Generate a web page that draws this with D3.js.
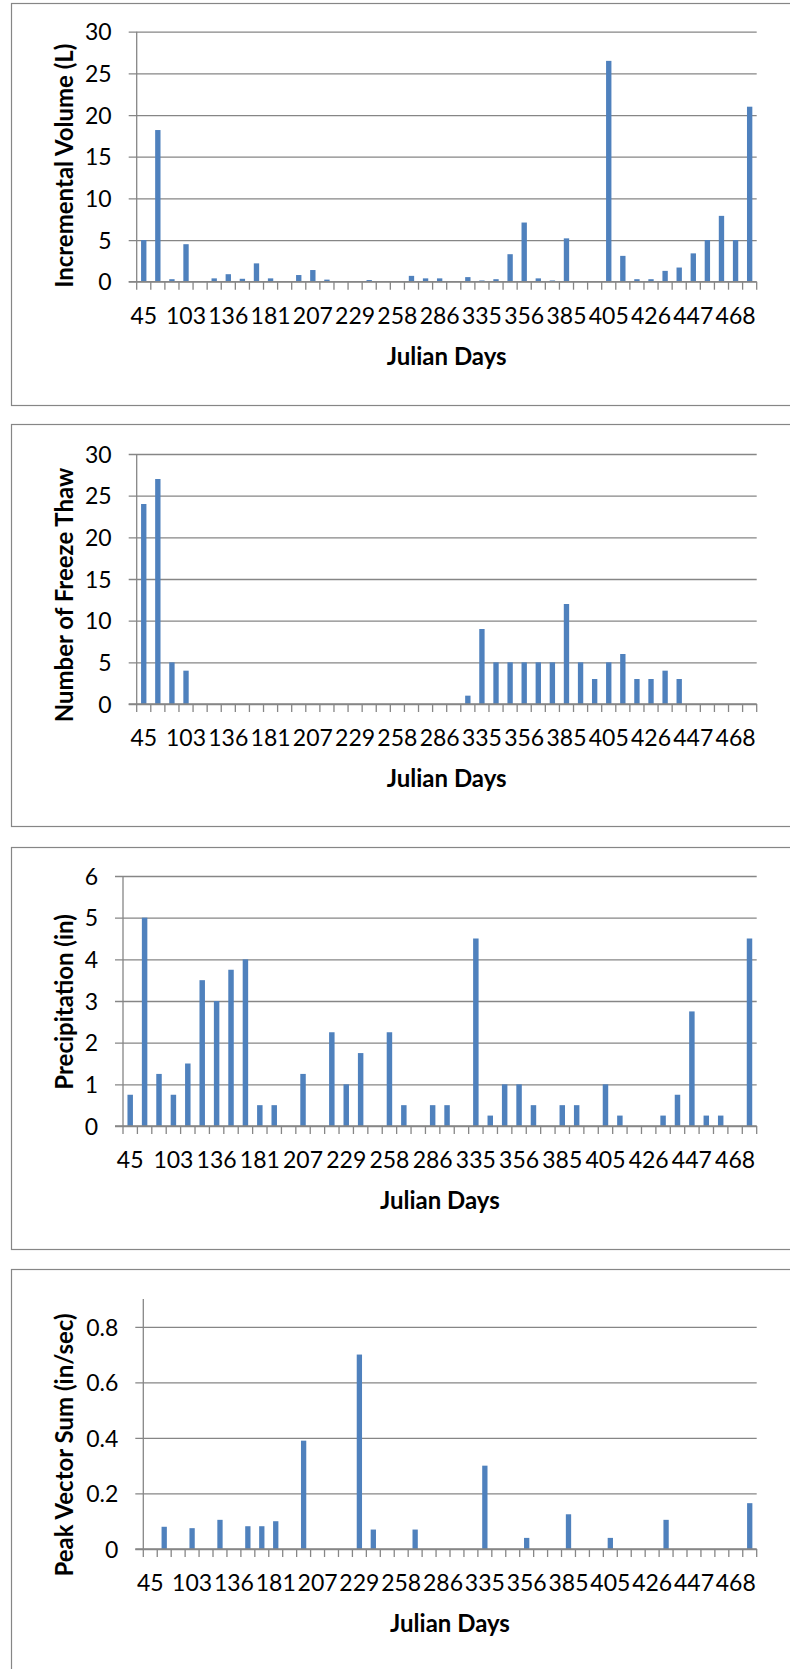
<!DOCTYPE html>
<html>
<head>
<meta charset="utf-8">
<script src="https://cdn.jsdelivr.net/npm/d3@7/dist/d3.min.js"></script>
<style>
  body { margin: 0; background: #fff; }
  text { font-family: Lato, "Open Sans", sans-serif; fill: #000; }
</style>
</head>
<body>
<svg id="chart" width="790" height="1669"></svg>
<script>
// x categories (only every third day is labelled on the chart)
var days = ["45","","","103","","","136","","","181","","","207","","","229","","",
            "258","","","286","","","335","","","356","","","385","","","405","","",
            "426","","","447","","","468",""];

// series values, one per category
var volume = [5, 18.2, 0.3, 4.5, 0, 0.4, 0.9, 0.35, 2.2, 0.4, 0, 0.8, 1.4, 0.25, 0, 0,
              0.2, 0, 0, 0.7, 0.4, 0.4, 0, 0.55, 0.15, 0.3, 3.3, 7.1, 0.4, 0.15, 5.2, 0,
              0, 26.5, 3.1, 0.3, 0.3, 1.3, 1.7, 3.4, 5, 7.9, 5, 21];
var freezeThaw = [24, 27, 5, 4, 0, 0, 0, 0, 0, 0, 0, 0, 0, 0, 0, 0, 0, 0, 0, 0, 0, 0,
                  0, 1, 9, 5, 5, 5, 5, 5, 12, 5, 3, 5, 6, 3, 3, 4, 3, 0, 0, 0, 0, 0];
var precipitation = [0.75, 5, 1.25, 0.75, 1.5, 3.5, 3, 3.75, 4, 0.5, 0.5, 0, 1.25, 0,
                     2.25, 1, 1.75, 0, 2.25, 0.5, 0, 0.5, 0.5, 0, 4.5, 0.25, 1, 1, 0.5,
                     0, 0.5, 0.5, 0, 1, 0.25, 0, 0, 0.25, 0.75, 2.75, 0.25, 0.25, 0, 4.5];
var peakVector = [0, 0.08, 0, 0.075, 0, 0.105, 0, 0.082, 0.082, 0.1, 0, 0.39, 0, 0, 0,
                  0.7, 0.07, 0, 0, 0.07, 0, 0, 0, 0, 0.3, 0, 0, 0.04, 0, 0, 0.125, 0, 0,
                  0.04, 0, 0, 0, 0.105, 0, 0, 0, 0, 0, 0.165];

// y axis ticks per panel
var volumeTicks = [0, 5, 10, 15, 20, 25, 30];
var freezeTicks = [0, 5, 10, 15, 20, 25, 30];
var precipTicks = [0, 1, 2, 3, 4, 5, 6];
var peakTicks = [0, 0.2, 0.4, 0.6, 0.8];

var gray = "#868686", barColor = "#4F81BD";
var svg = d3.select("#chart");

var panels = [
  {values: volume, ticks: volumeTicks, yMax: 30, title: "Incremental Volume (L)",
   top: 3, plotTop: 31.7, left: 136.7, titleShift: 9},
  {values: freezeThaw, ticks: freezeTicks, yMax: 30, title: "Number of Freeze Thaw",
   top: 424, plotTop: 454, left: 136.7, titleShift: 16},
  {values: precipitation, ticks: precipTicks, yMax: 6, title: "Precipitation (in)",
   top: 847, plotTop: 876, left: 123, titleShift: 1},
  {values: peakVector, ticks: peakTicks, yMax: 0.9, title: "Peak Vector Sum (in/sec)",
   top: 1269, plotTop: 1299, left: 143.3, titleShift: 21}
];

var plotRight = 756.7, plotH = 250;

panels.forEach(function(p) {
  //panel frame
  svg.append("rect")
     .attr("x", 11.5).attr("y", p.top + 0.5)
     .attr("width", 820).attr("height", 402)
     .attr("fill", "none").attr("stroke", gray).attr("stroke-width", 1.2);

  var x = d3.scaleBand()
            .domain(d3.range(days.length))
            .range([p.left, plotRight])
            .padding(0);
  var y = d3.scaleLinear()
            .domain([0, p.yMax])
            .range([p.plotTop + plotH, p.plotTop]);

  var g = svg.append("g");

  //gridlines + y labels
  var yAxis = d3.axisLeft(y)
                .tickValues(p.ticks)
                .tickSize(-(plotRight - p.left))
                .tickPadding(0)
                .tickFormat(function(d) { return d; });
  var ya = g.append("g")
            .attr("transform", "translate(" + p.left + ",0)")
            .call(yAxis);
  ya.select(".domain").remove();
  ya.selectAll(".tick line")
    .attr("x1", -8)
    .attr("stroke", gray).attr("stroke-width", 1.3);
  ya.selectAll(".tick text")
    .attr("x", -25)
    .attr("dy", "0.36em")
    .attr("font-size", 23)
    .attr("font-family", "Lato, sans-serif")
    .attr("fill", "#000");

  //vertical axis line
  g.append("line")
   .attr("x1", p.left).attr("x2", p.left)
   .attr("y1", p.plotTop).attr("y2", y(0))
   .attr("stroke", gray).attr("stroke-width", 1.3);

  //bars
  var bw = x.bandwidth() * 0.38;
  g.selectAll("rect.bar")
   .data(p.values)
   .enter()
   .append("rect")
   .attr("class", "bar")
   .attr("x", function(d, i) { return x(i) + (x.bandwidth() - bw) / 2; })
   .attr("y", function(d) { return y(d); })
   .attr("width", bw)
   .attr("height", function(d) { return y(0) - y(d); })
   .attr("fill", barColor);

  //x axis line and boundary ticks
  g.append("line")
   .attr("x1", p.left - 8).attr("x2", plotRight)
   .attr("y1", y(0)).attr("y2", y(0))
   .attr("stroke", gray).attr("stroke-width", 1.3);
  var edges = d3.range(days.length + 1);
  g.selectAll("line.xtick")
   .data(edges)
   .enter()
   .append("line")
   .attr("class", "xtick")
   .attr("x1", function(i) { return i < days.length ? x(i) : x(i - 1) + x.bandwidth(); })
   .attr("x2", function(i) { return i < days.length ? x(i) : x(i - 1) + x.bandwidth(); })
   .attr("y1", y(0)).attr("y2", y(0) + 8)
   .attr("stroke", gray).attr("stroke-width", 1.3);

  //x labels
  var xAxis = d3.axisBottom(x)
                .tickValues(d3.range(days.length).filter(function(i) { return days[i] !== ""; }))
                .tickSize(0)
                .tickPadding(26)
                .tickFormat(function(i) { return days[i]; });
  var xa = g.append("g")
            .attr("transform", "translate(0," + y(0) + ")")
            .call(xAxis);
  xa.select(".domain").remove();
  xa.selectAll(".tick text")
    .attr("font-size", 23)
    .attr("font-family", "Lato, sans-serif")
    .attr("fill", "#000");

  //axis titles
  g.append("text")
   .attr("x", (p.left + plotRight) / 2)
   .attr("y", y(0) + 83)
   .attr("text-anchor", "middle")
   .attr("font-size", 24)
   .attr("font-weight", "bold")
   .text("Julian Days");

  var cy = p.plotTop + plotH / 2 + p.titleShift;
  g.append("text")
   .attr("text-anchor", "middle")
   .attr("dominant-baseline", "central")
   .attr("transform", "translate(63.5," + cy + ")rotate(-90)")
   .attr("font-size", 24)
   .attr("font-weight", "bold")
   .text(p.title);
});
</script>
</body>
</html>
